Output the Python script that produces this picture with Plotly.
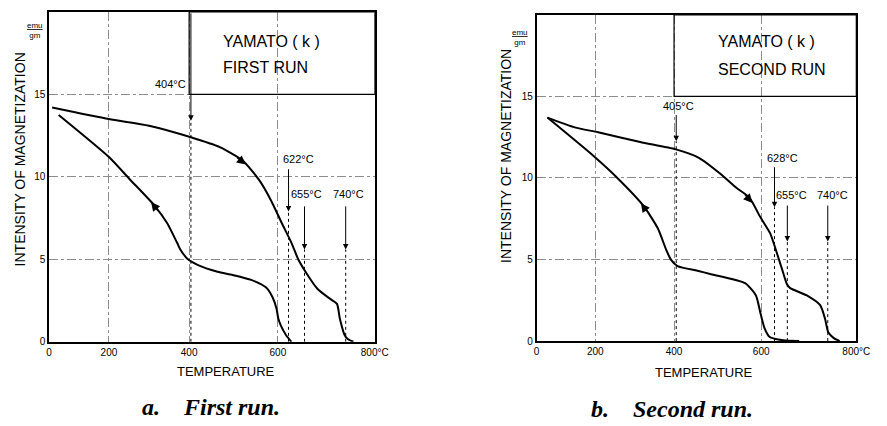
import numpy as np
import plotly.graph_objects as go

# ---- chart scale (the printed temperature axis is not linear) ----
TICK_T = [0, 200, 400, 600, 800]
TICK_POS = [0, 147, 344, 562, 800]
TICK_TEXT = ["0", "200", "400", "600", "800°C"]
Y_TICKS = [0, 5, 10, 15]
Y_TICK_TEXT = ["0", "5", "10", "15"]

# ---- a. First run ----
run1_heat_T = [10, 200, 300, 404, 469, 520, 558, 584, 608, 628, 642, 658, 682, 708, 722, 728, 738, 745, 756]
run1_heat_M = [14.2, 13.5, 13.1, 12.4, 11.8, 11.0, 9.8, 8.6, 7.2, 6.0, 5.0, 4.2, 3.2, 2.6, 2.3, 1.4, 0.4, 0.15, 0.0]
run1_cool_T = [32, 200, 250, 312, 345, 370, 378, 397, 420, 464, 498, 540, 573, 588, 597, 601, 606, 617, 628]
run1_cool_M = [13.75, 11.2, 9.9, 8.3, 7.2, 6.0, 5.6, 5.0, 4.65, 4.25, 4.05, 3.75, 3.3, 2.7, 2.0, 1.4, 1.0, 0.4, 0.0]
run1_marks = [404, 622, 655, 740]

# ---- b. Second run ----
run2_heat_T = [37, 130, 207, 314, 404, 456, 509, 543, 573, 598, 619, 633, 644, 654, 661, 696, 724, 734, 741, 752, 765]
run2_heat_M = [13.7, 13.1, 12.8, 12.2, 11.75, 11.25, 10.2, 9.4, 8.8, 7.6, 6.6, 5.4, 4.4, 3.5, 3.25, 2.8, 2.2, 1.4, 0.55, 0.2, 0.0]
run2_cool_T = [37, 197, 256, 322, 359, 380, 392, 408, 456, 485, 563, 588, 598, 607, 618, 646, 680]
run2_cool_M = [13.7, 11.3, 10.0, 8.3, 6.9, 5.6, 5.0, 4.6, 4.3, 4.1, 3.55, 2.8, 1.75, 0.8, 0.25, 0.05, 0.0]
run2_marks = [405, 628, 655, 740]


def to_pos(t):
    return np.interp(t, TICK_T, TICK_POS)


W, H = 887, 426
FONT = "Liberation Sans, Arial, sans-serif"
fig = go.Figure()
annotations = []
shapes = []


def px(x, y, xanchor="center"):
    return dict(x=x / W, y=1 - y / H, xref="paper", yref="paper",
                xanchor=xanchor, yanchor="middle")


def panel(ax, heatT, heatM, coolT, coolM, marks, mark_cfg, arrows_cfg):
    xr = "x" if ax == 1 else "x2"
    yr = "y" if ax == 1 else "y2"
    for T, M in ((heatT, heatM), (coolT, coolM)):
        fig.add_trace(go.Scatter(x=to_pos(T), y=M, mode="lines", xaxis=xr, yaxis=yr,
                                 line=dict(color="black", width=2, shape="spline",
                                           smoothing=0.6),
                                 showlegend=False, hoverinfo="skip"))
    # curve direction arrows
    for (T, M, t_tip, t_tail) in arrows_cfg:
        annotations.append(dict(x=to_pos(t_tip), y=float(np.interp(t_tip, T, M)),
                                ax=to_pos(t_tail), ay=float(np.interp(t_tail, T, M)),
                                xref=xr, yref=yr, axref=xr, ayref=yr, text="",
                                showarrow=True, arrowhead=2, arrowsize=1.2,
                                arrowwidth=1.5, arrowcolor="black"))
    # marked temperatures
    for t, (y_lab, y_top, y_tip, anchor, shift) in zip(marks, mark_cfg):
        p = float(to_pos(t))
        annotations.append(dict(x=p, y=y_tip, ax=p, ay=y_top, xref=xr, yref=yr,
                                axref=xr, ayref=yr, text="", showarrow=True,
                                arrowhead=2, arrowsize=1.1, arrowwidth=1,
                                arrowcolor="black"))
        shapes.append(dict(type="line", xref=xr, yref=yr, x0=p, x1=p, y0=0, y1=y_tip,
                           line=dict(color="black", width=1, dash="dot")))
        annotations.append(dict(x=p, y=y_lab, xref=xr, yref=yr, text=f"{t}°C",
                                showarrow=False, xanchor=anchor, yanchor="middle",
                                xshift=shift,
                                font=dict(family=FONT, size=11, color="black")))
    # title box
    shapes.append(dict(type="rect", xref=xr, yref=yr, x0=to_pos(400), x1=800, y0=15, y1=20,
                       line=dict(color="black", width=1.2)))


panel(1, run1_heat_T, run1_heat_M, run1_cool_T, run1_cool_M, run1_marks,
      [(15.65, 20, 13.4, "right", -3), (11.05, 10.55, 7.9, "left", -8),
       (8.95, 8.3, 5.6, "center", 2), (8.95, 8.3, 5.6, "center", 3)],
      [(run1_heat_T, run1_heat_M, 528, 505), (run1_cool_T, run1_cool_M, 305, 325)])
panel(2, run2_heat_T, run2_heat_M, run2_cool_T, run2_cool_M, run2_marks,
      [(14.4, 13.95, 12.25, "center", 2), (11.25, 10.75, 8.2, "left", -9),
       (8.95, 8.4, 6.1, "center", 4), (8.95, 8.4, 6.1, "center", 5)],
      [(run2_heat_T, run2_heat_M, 580, 560), (run2_cool_T, run2_cool_M, 316, 333)])

texts = [
    ("YAMATO ( k )", 222, 42, 16, "left"),
    ("FIRST RUN", 222, 68, 16, "left"),
    ("YAMATO ( k )", 727, 42, 16, "left"),
    ("SECOND RUN", 727, 70, 16, "left"),
    ("TEMPERATURE", 227, 377, 13, "center"),
    ("TEMPERATURE", 715, 378, 13, "center"),
]
for t, x, y, s, anc in texts:
    annotations.append(dict(**px(x, y, anc), text=t, showarrow=False,
                            font=dict(family=FONT, size=s, color="black")))
for x, y in ((17, 162), (513, 158)):
    annotations.append(dict(**px(x, y), text="INTENSITY OF MAGNETIZATION", textangle=-90,
                            showarrow=False, font=dict(family=FONT, size=14, color="black")))
for x, y in ((33, 31), (527, 38)):
    annotations.append(dict(**px(x, y), text="<u>emu</u><br>gm", showarrow=False,
                            font=dict(family=FONT, size=8, color="black")))
for t, x, y in (("<b><i>a.    First run.</i></b>", 212, 413),
                ("<b><i>b.    Second run.</i></b>", 682, 415)):
    annotations.append(dict(**px(x, y), text=t, showarrow=False,
                            font=dict(family="Liberation Serif, Times New Roman, serif", size=24,
                                      color="black")))

xa = dict(range=[0, 800], tickvals=TICK_POS, ticktext=TICK_TEXT, showgrid=True,
          gridcolor="#8c8c8c", griddash="dashdot", gridwidth=1, showline=True, mirror=True,
          linecolor="black", linewidth=1.5, zeroline=False, ticks="",
          tickfont=dict(family=FONT, size=10, color="black"), fixedrange=True)
ya = dict(range=[0, 20], tickvals=Y_TICKS, ticktext=Y_TICK_TEXT, showgrid=True,
          gridcolor="#8c8c8c", griddash="dashdot", gridwidth=1, showline=True, mirror=True,
          linecolor="black", linewidth=1.5, zeroline=False, ticks="",
          tickfont=dict(family=FONT, size=10, color="black"), fixedrange=True)

fig.update_layout(
    width=W, height=H, margin=dict(l=0, r=0, t=0, b=0),
    paper_bgcolor="white", plot_bgcolor="white", showlegend=False,
    xaxis=dict(xa, domain=[0.053, 0.4273], anchor="y"),
    yaxis=dict(ya, domain=[0.1862, 0.9718], anchor="x"),
    xaxis2=dict(xa, domain=[0.6133, 0.9808], anchor="y2"),
    yaxis2=dict(ya, domain=[0.1878, 0.9648], anchor="x2"),
    annotations=annotations, shapes=shapes,
)
fig.write_html("out.html")
